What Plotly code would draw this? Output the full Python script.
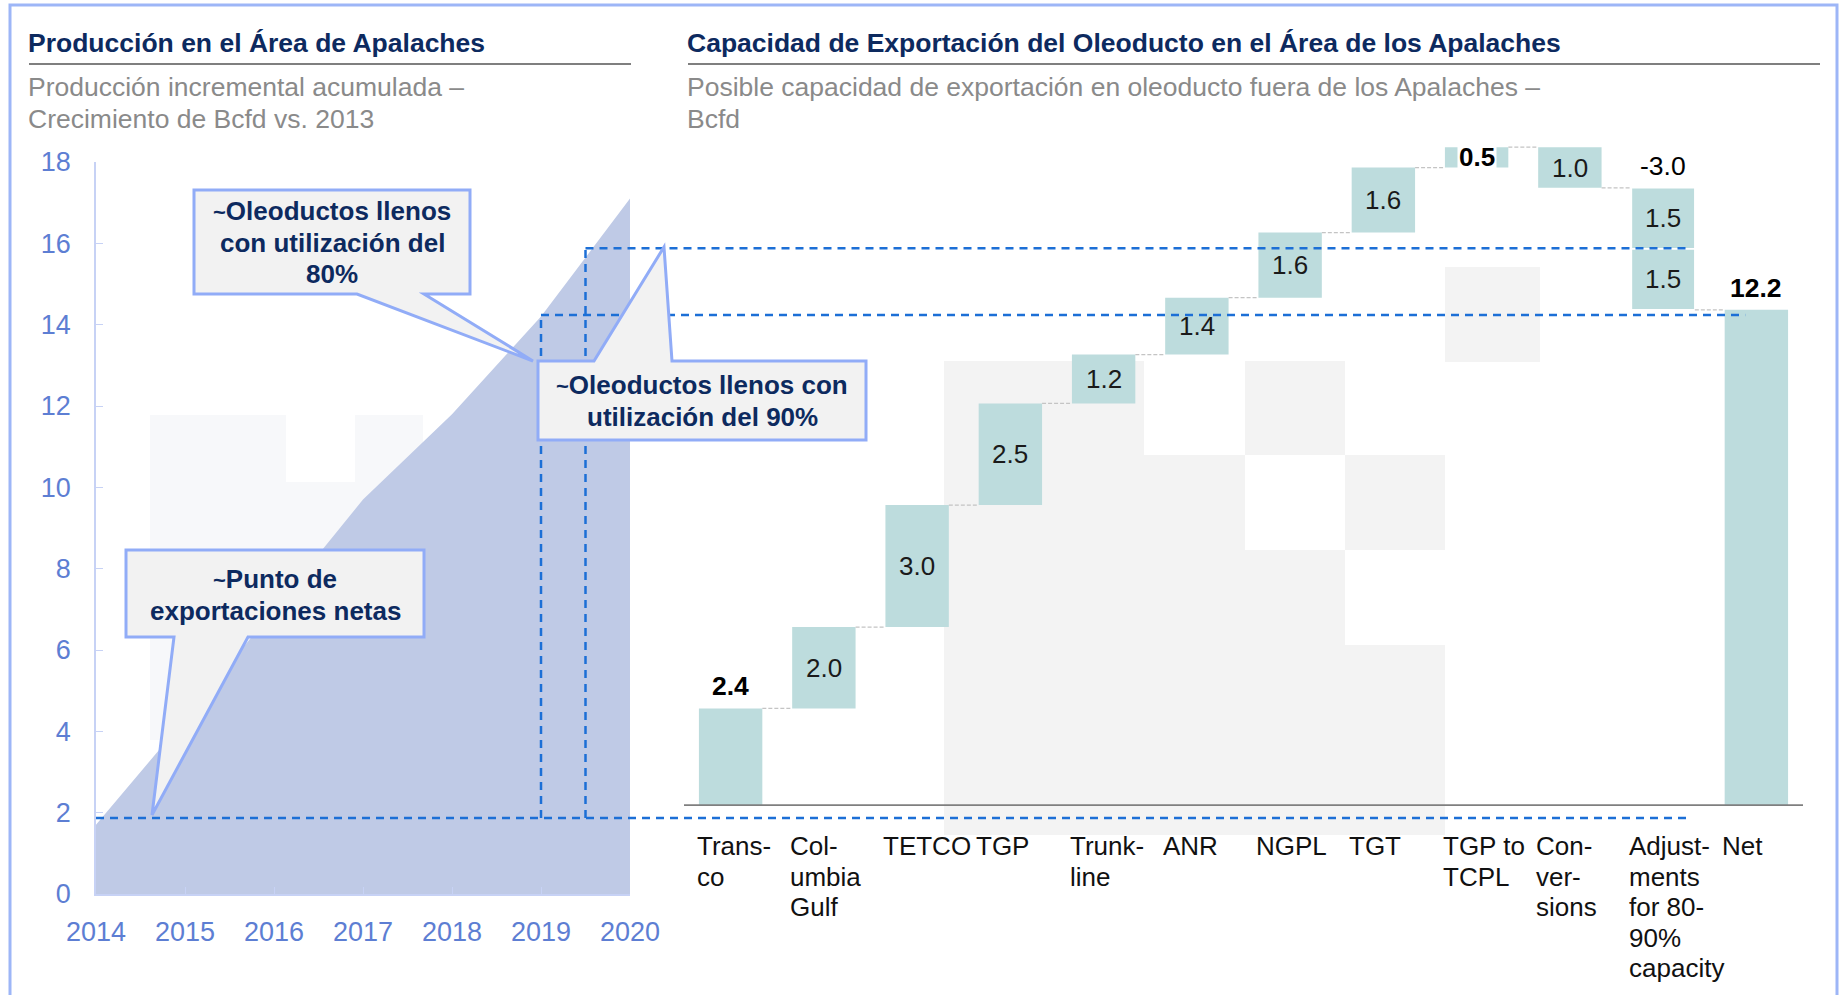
import plotly.graph_objects as go

W, H = 1843, 995

# ---- left panel: cumulative incremental production (Bcfd vs 2013)
years = [2014, 2015, 2016, 2017, 2018, 2019, 2020]
production = [1.7, 4.3, 7.0, 9.7, 11.8, 14.2, 17.1]
y_ticks = [0, 2, 4, 6, 8, 10, 12, 14, 16, 18]

# reference levels drawn as dashed guides (left axis units)
net_export_level = 1.87
full_90_year, full_90_level = 2019.0, 14.24
full_80_year, full_80_level = 2019.5, 15.88

# ---- right panel: pipeline export capacity waterfall (Bcfd)
pipelines = ["Trans-<br>co", "Col-<br>umbia<br>Gulf", "TETCO", "TGP", "Trunk-<br>line", "ANR",
             "NGPL", "TGT", "TGP to<br>TCPL", "Con-<br>ver-<br>sions",
             "Adjust-<br>ments<br>for 80-<br>90%<br>capacity", "Net"]
changes = [2.4, 2.0, 3.0, 2.5, 1.2, 1.4, 1.6, 1.6, 0.5, -1.0, -3.0]
net_total = 12.2
value_labels = ["<b>2.4</b>", "2.0", "3.0", "2.5", "1.2", "1.4", "1.6", "1.6", "<b>0.5</b>", "1.0", "-3.0",
                "<b>12.2</b>"]
adjust_parts = [1.5, 1.5]
adjust_labels = ["1.5", "1.5"]

FONT = "Liberation Sans, Arial, sans-serif"
NAVY = "#0d2a5f"
GREY_TXT = "#8a8a8a"
AXIS = "#c7d2f5"
TICK = "#5d7ed3"
AREA = "#bfcae6"
BAR = "#bddcdd"
DASH = "#1c6fd6"
BOX_FILL = "#f2f2f2"
BOX_LINE = "#91acf7"
GHOST = "#f3f3f3"

# plot boxes in pixels
LX0, LX1, LY0, LY1 = 96, 630, 894, 162
RX0, RX1, RY0, RY1 = 684, 1803, 806, 74


def px(x):
    return x / W


def py(y):
    return 1 - y / H


def rx(i):
    return px(RX0 + (i + 0.5) / len(pipelines) * (RX1 - RX0))


def lx(year):
    return px(LX0 + (year - years[0]) / (years[-1] - years[0]) * (LX1 - LX0))


# waterfall geometry
bases, heights, levels = [], [], []
run = 0.0
for c in changes:
    bases.append(run + min(c, 0))
    heights.append(abs(c))
    run += c
    levels.append(run)
bases.append(0.0)
heights.append(net_total)
ADJ = 10
HALF = 0.34

fig = go.Figure()

fig.add_trace(go.Scatter(x=years, y=production, mode="lines", fill="tozeroy",
                         fillcolor=AREA, line=dict(width=0, color=AREA),
                         hoverinfo="skip", xaxis="x", yaxis="y"))

main_idx = [i for i in range(len(pipelines)) if i != ADJ]
fig.add_trace(go.Bar(x=main_idx, y=[heights[i] for i in main_idx], base=[bases[i] for i in main_idx],
                     width=2 * HALF, marker=dict(color=BAR, line=dict(width=0)),
                     hoverinfo="skip", xaxis="x2", yaxis="y2"))
adj_bases = [levels[ADJ] + sum(adjust_parts[:k]) for k in range(len(adjust_parts))]
fig.add_trace(go.Bar(x=[ADJ] * len(adjust_parts), y=adjust_parts, base=adj_bases,
                     width=2 * HALF, marker=dict(color=BAR, line=dict(width=1.5, color="white")),
                     hoverinfo="skip", xaxis="x2", yaxis="y2"))

shapes = []
annotations = []

# faint ghost blocks left behind in the slide
for x0, y0, x1, y1 in [(150, 415, 286, 740), (286, 482, 355, 740), (355, 415, 423, 740), (423, 482, 491, 740)]:
    shapes.append(dict(type="rect", xref="paper", yref="paper", x0=px(x0), x1=px(x1), y0=py(y1), y1=py(y0),
                       fillcolor="#f7f8fa", line=dict(width=0), layer="below"))
for x0, y0, x1, y1 in [(944, 361, 1144, 835), (1144, 455, 1245, 835), (1245, 361, 1345, 455),
                       (1245, 550, 1345, 835), (1345, 455, 1445, 550), (1345, 645, 1445, 835),
                       (1445, 267, 1540, 362)]:
    shapes.append(dict(type="rect", xref="paper", yref="paper", x0=px(x0), x1=px(x1), y0=py(y1), y1=py(y0),
                       fillcolor=GHOST, line=dict(width=0), layer="below"))

# waterfall connectors
for i, lev in enumerate(levels):
    shapes.append(dict(type="line", xref="x2", yref="y2", x0=i + HALF, x1=i + 1 - HALF, y0=lev, y1=lev,
                       line=dict(color="#c4c4c4", width=1.2, dash="4px,2px")))

# baseline of waterfall
shapes.append(dict(type="line", xref="x2", yref="y2", x0=-0.5, x1=len(pipelines) - 0.5, y0=0, y1=0,
                   line=dict(color="#7f7f7f", width=3.5)))

# outer frame
shapes.append(dict(type="rect", xref="paper", yref="paper", x0=px(10), x1=px(1837), y0=py(998), y1=py(5),
                   line=dict(color="#9db6f7", width=3), fillcolor="rgba(0,0,0,0)"))

# title underlines
for x0, x1 in [(29, 631), (688, 1820)]:
    shapes.append(dict(type="line", xref="paper", yref="paper", x0=px(x0), x1=px(x1), y0=py(64), y1=py(64),
                       line=dict(color="#7f7f7f", width=2)))

# dashed guide lines
dash_line = dict(color=DASH, width=2.5, dash="8px,6px")
shapes.append(dict(type="line", xref="x", yref="y", x0=full_90_year, x1=full_90_year,
                   y0=net_export_level, y1=full_90_level, line=dash_line))
shapes.append(dict(type="line", xref="x", yref="y", x0=full_80_year, x1=full_80_year,
                   y0=net_export_level, y1=full_80_level, line=dash_line))
shapes.append(dict(type="line", xref="paper", yref="y", x0=lx(years[0]), x1=rx(10.28),
                   y0=net_export_level, y1=net_export_level, line=dash_line))
shapes.append(dict(type="line", xref="paper", yref="y", x0=lx(full_90_year), x1=rx(10.88),
                   y0=full_90_level, y1=full_90_level, line=dash_line))
shapes.append(dict(type="line", xref="paper", yref="y", x0=lx(full_80_year), x1=rx(10.30),
                   y0=full_80_level, y1=full_80_level, line=dash_line))


def callout(points):
    path = "M " + " L ".join(f"{px(x):.5f},{py(y):.5f}" for x, y in points) + " Z"
    return dict(type="path", xref="paper", yref="paper", path=path, fillcolor=BOX_FILL,
                line=dict(color=BOX_LINE, width=3))


shapes.append(callout([(194, 190), (470, 190), (470, 294), (424, 294), (533, 361), (357, 294), (194, 294)]))
shapes.append(callout([(538, 361), (594, 361), (664, 247), (672, 361), (866, 361), (866, 440), (538, 440)]))
shapes.append(callout([(126, 550), (424, 550), (424, 637), (248, 637), (152, 815), (174, 637), (126, 637)]))

TILDE = '<span style="font-size:22px">~</span>'
for cx, cy, lines in [(332, 211, [TILDE + "Oleoductos llenos", "con utilización del", "80%"]),
                      (702, 385, [TILDE + "Oleoductos llenos con", "utilización del 90%"]),
                      (275, 579, [TILDE + "Punto de", "exportaciones netas"])]:
    for k, line in enumerate(lines):
        annotations.append(dict(xref="paper", yref="paper", x=px(cx), y=py(cy + 31.6 * k),
                                text=f"<b>{line}</b>", showarrow=False,
                                xanchor="center", yanchor="middle",
                                font=dict(size=26, color=NAVY, family=FONT)))

# titles and subtitles
for x0, title, sub1, sub2 in [
    (29, "Producción en el Área de Apalaches", "Producción incremental acumulada –", "Crecimiento de Bcfd vs. 2013"),
    (688, "Capacidad de Exportación del Oleoducto en el Área de los Apalaches",
     "Posible capacidad de exportación en oleoducto fuera de los Apalaches –", "Bcfd")]:
    annotations.append(dict(xref="paper", yref="paper", x=px(x0 - 3), y=py(43), text=f"<b>{title}</b>",
                            showarrow=False, xanchor="left", yanchor="middle",
                            font=dict(size=26.5, color=NAVY, family=FONT)))
    for yy, s in [(87, sub1), (119, sub2)]:
        annotations.append(dict(xref="paper", yref="paper", x=px(x0 - 3), y=py(yy), text=s,
                                showarrow=False, xanchor="left", yanchor="middle",
                                font=dict(size=26.5, color=GREY_TXT, family=FONT)))

# category labels under the waterfall, one annotation per line
for i, name in enumerate(pipelines):
    for k, line in enumerate(name.split("<br>")):
        annotations.append(dict(xref="x2", yref="paper", x=i - HALF - 0.045, y=py(846 + 30.6 * k), text=line,
                                showarrow=False, xanchor="left", yanchor="middle",
                                font=dict(size=26, color="#111111", family=FONT)))

# value labels
outside = {0, ADJ, len(pipelines) - 1}
for i, lab in enumerate(value_labels):
    if i in outside:
        top = bases[i] + heights[i]
        annotations.append(dict(xref="x2", yref="y2", x=i, y=top, text=lab, showarrow=False,
                                xanchor="center", yanchor="bottom", yshift=5,
                                font=dict(size=26.5, color="black", family=FONT)))
    elif heights[i] < 0.8:
        annotations.append(dict(xref="x2", yref="y2", x=i, y=bases[i] + heights[i] / 2, text=lab,
                                showarrow=False, xanchor="center", yanchor="middle", bgcolor="white",
                                borderpad=1, font=dict(size=26, color="black", family=FONT)))
    else:
        annotations.append(dict(xref="x2", yref="y2", x=i, y=bases[i] + heights[i] / 2, text=lab,
                                showarrow=False, xanchor="center", yanchor="middle",
                                font=dict(size=26, color="#1a1a1a", family=FONT)))
for b, h, lab in zip(adj_bases, adjust_parts, adjust_labels):
    annotations.append(dict(xref="x2", yref="y2", x=ADJ, y=b + h / 2, text=lab, showarrow=False,
                            xanchor="center", yanchor="middle",
                            font=dict(size=26, color="#1a1a1a", family=FONT)))

fig.update_layout(
    width=W, height=H, margin=dict(l=0, r=0, t=0, b=0, pad=0, autoexpand=False),
    paper_bgcolor="white", plot_bgcolor="rgba(0,0,0,0)",
    showlegend=False, barmode="overlay", font=dict(family=FONT),
    xaxis=dict(domain=[px(LX0), px(LX1)], range=[years[0], years[-1]], tickvals=years,
               ticks="inside", ticklen=7, tickcolor=AXIS, showline=True, linecolor=AXIS, linewidth=1.5,
               showgrid=False, zeroline=False, ticklabelstandoff=13, automargin=False,
               tickfont=dict(size=27, color=TICK, family=FONT)),
    yaxis=dict(domain=[py(LY0), py(LY1)], range=[0, 18], tickvals=y_ticks,
               ticks="inside", ticklen=7, tickcolor=AXIS, showline=True, linecolor=AXIS, linewidth=1.5,
               showgrid=False, zeroline=False, ticklabelstandoff=18, automargin=False,
               tickfont=dict(size=27, color=TICK, family=FONT)),
    xaxis2=dict(domain=[px(RX0), px(RX1)], range=[-0.5, len(pipelines) - 0.5], visible=False),
    yaxis2=dict(domain=[py(RY0), py(RY1)], range=[0, 18], visible=False, anchor="x2"),
    shapes=shapes, annotations=annotations,
)

fig.write_html("out.html", config={"displayModeBar": False},
               post_script="document.body.style.margin='0';")
